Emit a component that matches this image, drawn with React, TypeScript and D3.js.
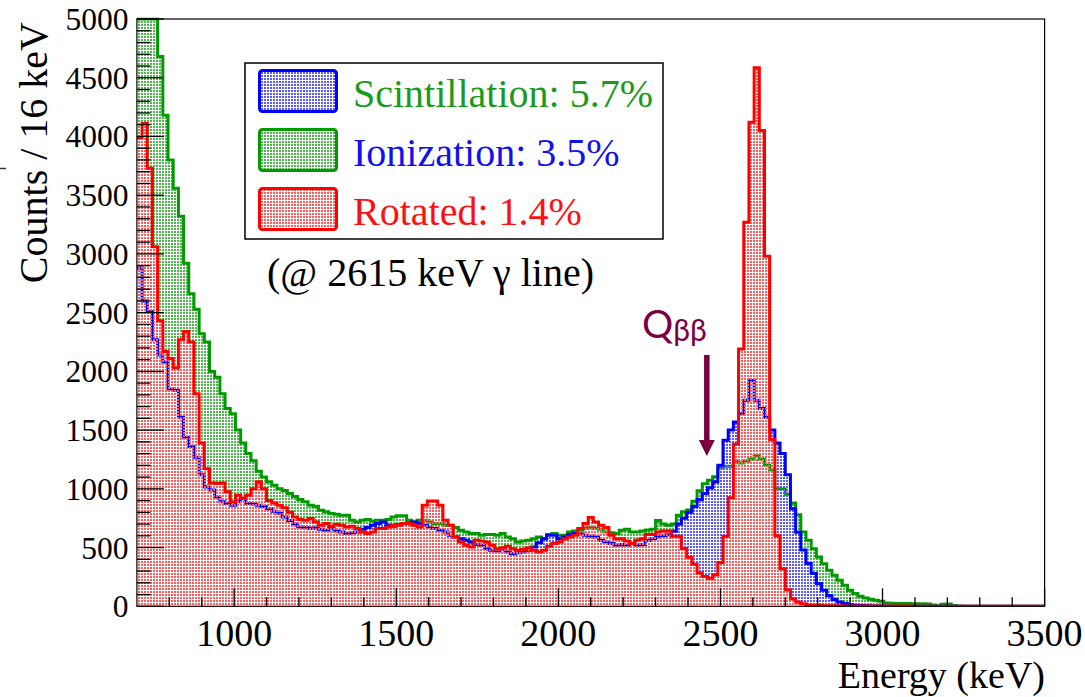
import React from 'react';
import * as d3 from 'd3';

// Spectrum binning: 16 keV bins from 700 keV to 3500 keV (175 bins)
const BIN_START = 700;
const BIN_WIDTH = 16;

// Green spectrum (scintillation only)
const scintillationCounts = [
  5600, 5450, 5300, 5100, 4680, 4180, 3800, 3560, 3320, 2920,
  2660, 2530, 2320, 2250, 2000, 1950, 1810, 1685, 1640, 1500,
  1390, 1300, 1240, 1150, 1100, 1060, 1030, 1000, 985, 960,
  935, 909, 890, 861, 852, 818, 804, 790, 784, 775,
  775, 733, 718, 733, 738, 727, 733, 733, 738, 761,
  770, 770, 733, 718, 733, 733, 718, 704, 704, 690,
  690, 670, 648, 633, 619, 619, 605, 612, 612, 605,
  619, 591, 576, 548, 555, 562, 576, 591, 576, 612,
  619, 605, 605, 633, 641, 648, 662, 670, 662, 655,
  633, 626, 619, 648, 655, 633, 633, 641, 650, 656,
  731, 700, 690, 700, 775, 805, 820, 894, 984, 1043,
  1073, 1103, 1178, 1193, 1193, 1237, 1220, 1237, 1252, 1282,
  1252, 1200, 1163, 1000, 998, 954, 880, 780, 633, 562,
  491, 420, 363, 306, 264, 221, 179, 136, 108, 85,
  71, 60, 51, 43, 28, 25, 24, 23, 23, 22,
  22, 21, 20, 12, 4, 18, 20, 6, 2, 0,
  0, 0, 0, 0, 0, 0, 0, 0, 0, 0,
  0, 0, 0, 0, 0,
];

// Blue spectrum (ionization only)
const ionizationCounts = [
  2880, 2600, 2510, 2270, 2140, 2080, 1850, 1840, 1610, 1440,
  1360, 1270, 1120, 1015, 990, 930, 890, 875, 860, 890,
  915, 875, 870, 860, 850, 830, 810, 790, 760, 730,
  700, 676, 670, 662, 670, 655, 648, 662, 641, 633,
  619, 626, 633, 655, 670, 690, 704, 718, 690, 681,
  695, 704, 710, 718, 704, 690, 676, 662, 648, 633,
  605, 591, 576, 562, 548, 527, 520, 491, 477, 470,
  484, 463, 448, 455, 463, 477, 505, 540, 576, 605,
  605, 576, 591, 612, 619, 619, 605, 597, 591, 562,
  548, 534, 520, 527, 520, 534, 520, 527, 560, 575,
  590, 600, 610, 640, 700, 750, 800, 850, 910, 960,
  1010, 1060, 1200, 1414, 1500, 1570, 1640, 1755, 1925, 1755,
  1685, 1610, 1500, 1390, 1300, 1120, 830, 630, 480, 365,
  280, 195, 136, 93, 57, 37, 23, 14, 9, 6,
  4, 3, 2, 2, 1, 1, 0, 0, 0, 0,
  0, 0, 0, 0, 0, 0, 0, 0, 0, 0,
  0, 0, 0, 0, 0, 0, 0, 0, 0, 0,
  0, 0, 0, 0, 0,
];

// Red spectrum (rotated combination of both channels)
const rotatedCounts = [
  3990, 4110, 3730, 3060, 2430, 2170, 2110, 2030, 2270, 2340,
  2250, 1810, 1390, 1170, 1050, 1045, 1050, 975, 890, 945,
  920, 945, 1000, 1060, 1000, 900, 880, 860, 840, 800,
  760, 738, 733, 747, 718, 690, 704, 681, 699, 690,
  676, 681, 662, 633, 619, 633, 662, 662, 676, 690,
  690, 704, 704, 690, 676, 861, 897, 897, 861, 733,
  690, 591, 548, 520, 505, 562, 555, 548, 520, 491,
  498, 512, 491, 477, 484, 498, 477, 463, 477, 512,
  534, 548, 576, 591, 605, 662, 704, 755, 718, 690,
  670, 605, 576, 576, 555, 534, 562, 576, 611, 611,
  632, 641, 641, 596, 596, 492, 417, 358, 283, 253,
  238, 268, 373, 596, 924, 1380, 2190, 3270, 4120, 4585,
  4050, 2980, 1420, 600, 320, 140, 65, 37, 22, 12,
  8, 6, 5, 5, 4, 4, 3, 3, 3, 3,
  2, 2, 2, 2, 2, 2, 2, 2, 2, 2,
  1, 1, 1, 1, 1, 1, 1, 1, 1, 1,
  1, 1, 1, 1, 1, 1, 1, 1, 1, 1,
  1, 1, 1, 1, 1,
];

const xMajorTicks = [1000, 1500, 2000, 2500, 3000, 3500];
const yMajorTicks = [0, 500, 1000, 1500, 2000, 2500, 3000, 3500, 4000, 4500, 5000];

const legendEntries = [
  { label: 'Scintillation: 5.7%', box: 'blue', text: 'green' },
  { label: 'Ionization: 3.5%', box: 'green', text: 'blue' },
  { label: 'Rotated: 1.4%', box: 'red', text: 'red' },
];

const COLORS: Record<string, string> = {
  green: '#009900',
  blue: '#0000ff',
  red: '#ff0000',
};
// stipple dot colours (lighter tints of the line colours)
const DOT_COLORS: Record<string, string> = {
  green: '#4cb84c',
  blue: '#5a5aff',
  red: '#ff5a5a',
};
const TEXT_COLORS: Record<string, string> = {
  green: '#1a9a1a',
  blue: '#1010f0',
  red: '#ff1010',
};
const Q_COLOR = '#7b0042';

const SERIF = '"Liberation Serif", "DejaVu Serif", serif';

export default function App() {
  const W = 1085;
  const H = 697;
  const left = 136.9;
  const right = 1044.6;
  const top = 19;
  const bottom = 606.3;
  const yMax = 5000;

  const x = d3.scaleLinear().domain([700, 3500]).range([left, right]);
  const y = d3.scaleLinear().domain([0, yMax]).range([bottom, top]);

  const toPoints = (vals: number[]) => {
    const pts: [number, number][] = vals.map((v, i) => [BIN_START + i * BIN_WIDTH, Math.min(v, yMax)]);
    pts.push([BIN_START + vals.length * BIN_WIDTH, Math.min(vals[vals.length - 1], yMax)]);
    return pts;
  };

  const line = d3
    .line<[number, number]>()
    .x((d) => x(d[0]))
    .y((d) => y(d[1]))
    .curve(d3.curveStepAfter);

  const area = d3
    .area<[number, number]>()
    .x((d) => x(d[0]))
    .y0(y(0))
    .y1((d) => y(d[1]))
    .curve(d3.curveStepAfter);

  const series = [
    { key: 'green', vals: scintillationCounts },
    { key: 'blue', vals: ionizationCounts },
    { key: 'red', vals: rotatedCounts },
  ];

  const yMinor = d3.range(0, yMax + 1, 100).filter((v) => v % 500 !== 0);
  const xMinor = d3.range(800, 3500, 100).filter((v) => v % 500 !== 0);

  return (
    <svg
      width={W}
      height={H}
      viewBox={`0 0 ${W} ${H}`}
      style={{ position: 'absolute', left: 0, top: 0, background: '#fff' }}
    >
      <defs>
        {Object.keys(COLORS).map((k) => (
          <pattern key={k} id={`dots-${k}`} width={3} height={3} patternUnits="userSpaceOnUse">
            <rect x={0} y={0} width={2} height={2} fill={DOT_COLORS[k]} shapeRendering="crispEdges" />
          </pattern>
        ))}
        <clipPath id="frame">
          <rect x={left} y={top - 1.5} width={right - left} height={bottom - top + 1.5} />
        </clipPath>
      </defs>

      <rect x={0} y={0} width={W} height={H} fill="#fff" />

      {/* histograms: fill then outline, green, blue, red */}
      <g clipPath="url(#frame)">
        {series.map((s) => {
          const pts = toPoints(s.vals);
          return (
            <g key={s.key}>
              <path d={area(pts) || ''} fill={`url(#dots-${s.key})`} stroke="none" />
              <path d={line(pts) || ''} fill="none" stroke={COLORS[s.key]} strokeWidth={3} />
            </g>
          );
        })}
      </g>

      {/* frame */}
      <rect x={left} y={top} width={right - left} height={bottom - top} fill="none" stroke="#000" strokeWidth={1.2} />

      {/* y ticks */}
      {yMajorTicks.map((t) => (
        <line key={`ym${t}`} x1={left} x2={left + 27} y1={y(t)} y2={y(t)} stroke="#000" strokeWidth={1.3} />
      ))}
      {yMinor.map((t) => (
        <line key={`yn${t}`} x1={left} x2={left + 13.5} y1={y(t)} y2={y(t)} stroke="#000" strokeWidth={1.3} />
      ))}
      {yMajorTicks.map((t) => (
        <text
          key={`yl${t}`}
          x={128.5}
          y={y(t)}
          dy="0.35em"
          textAnchor="end"
          fontFamily={SERIF}
          fontSize={31.5}
          fill="#000"
        >
          {t}
        </text>
      ))}

      {/* x ticks */}
      {xMajorTicks.map((t) => (
        <line key={`xm${t}`} x1={x(t)} x2={x(t)} y1={bottom} y2={bottom - 18} stroke="#000" strokeWidth={1.3} />
      ))}
      {xMinor.map((t) => (
        <line key={`xn${t}`} x1={x(t)} x2={x(t)} y1={bottom} y2={bottom - 9} stroke="#000" strokeWidth={1.3} />
      ))}
      {xMajorTicks.map((t) => (
        <text
          key={`xl${t}`}
          x={x(t)}
          y={646}
          textAnchor="middle"
          fontFamily={SERIF}
          fontSize={38}
          fill="#000"
        >
          {t}
        </text>
      ))}

      {/* axis titles */}
      <text
        transform={`translate(47,22) rotate(-90)`}
        textAnchor="end"
        fontFamily={SERIF}
        fontSize={40}
        fill="#000"
      >
        Counts / 16 keV
      </text>
      <text x={1045} y={688} textAnchor="end" fontFamily={SERIF} fontSize={38} fill="#000">
        Energy (keV)
      </text>
      <line x1={0} x2={6} y1={168.5} y2={168.5} stroke="#333" strokeWidth={1.5} />

      {/* legend */}
      <rect x={245} y={63} width={418} height={176} fill="#fff" stroke="#000" strokeWidth={1.5} />
      {legendEntries.map((e, i) => {
        const rowTop = 69 + i * 59;
        return (
          <g key={e.label}>
            <rect
              x={259.5}
              y={rowTop + 1.5}
              width={77}
              height={41}
              rx={3}
              fill={`url(#dots-${e.box})`}
              stroke={COLORS[e.box]}
              strokeWidth={3}
            />
            <text x={353} y={rowTop + 37.5} fontFamily={SERIF} fontSize={40} fill={TEXT_COLORS[e.text]}>
              {e.label}
            </text>
          </g>
        );
      })}
      <text x={267} y={286} fontFamily={SERIF} fontSize={40} fill="#000">
        (@ 2615 keV γ line)
      </text>

      {/* Q-value marker */}
      <text x={642} y={338} fontFamily='"Lato", "Open Sans", sans-serif' fontSize={39} fill={Q_COLOR}>
        Q
        <tspan fontSize={30} dy={3}>
          ββ
        </tspan>
      </text>
      <line x1={x(2458)} x2={x(2458)} y1={355} y2={442} stroke={Q_COLOR} strokeWidth={5.5} />
      <polygon
        points={`${x(2458) - 8},${440} ${x(2458) + 8},${440} ${x(2458)},${456}`}
        fill={Q_COLOR}
      />
    </svg>
  );
}
